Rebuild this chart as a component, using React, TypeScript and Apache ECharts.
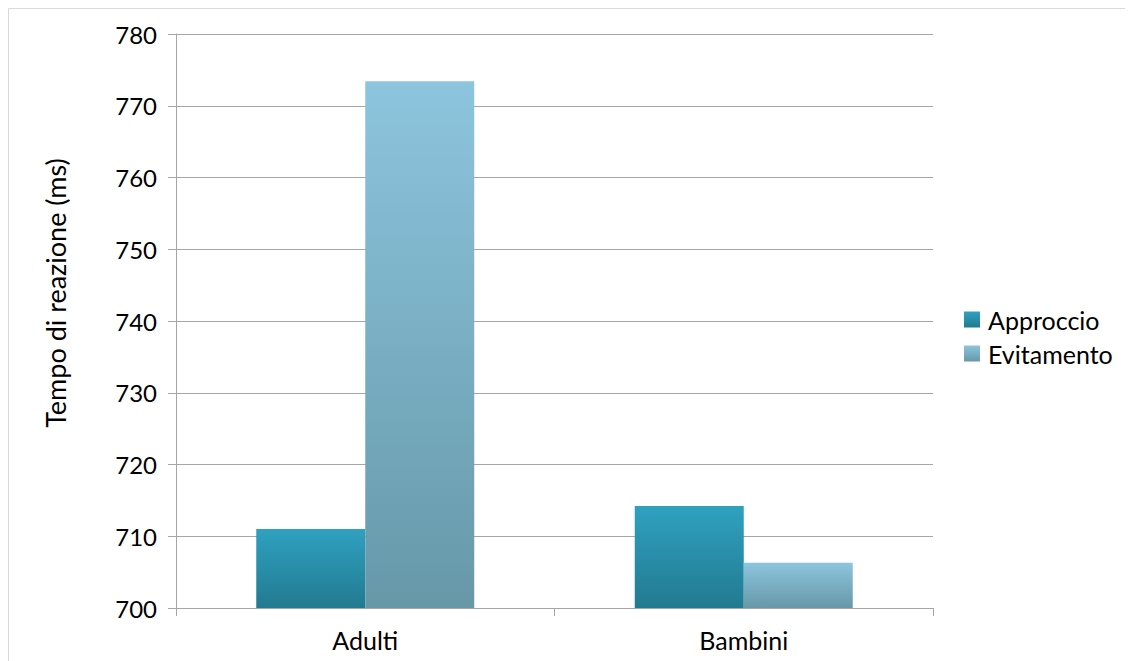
import React, { useEffect, useRef } from "react";
import * as echarts from "echarts";

const categories = ["Adulti", "Bambini"];
const approccio = [711.0, 714.2];
const evitamento = [773.4, 706.3];
const seriesNames = ["Approccio", "Evitamento"];
const yAxisTitle = "Tempo di reazione (ms)";

export default function App() {
  const ref = useRef<HTMLDivElement>(null);
  useEffect(() => {
    const chart = echarts.init(ref.current!, null, { renderer: "svg" });
    const font = "Lato, 'Open Sans', sans-serif";
    chart.setOption({
      animation: false,
      textStyle: { fontFamily: font },
      graphic: [
        {
          type: "rect",
          shape: { x: 0.5, y: 0.5, width: 3000, height: 3000 },
          style: { fill: "none", stroke: "#d9d9d9", lineWidth: 1 },
          silent: true,
        },
        {
          type: "text",
          x: 47,
          y: 285,
          rotation: Math.PI / 2,
          style: {
            text: yAxisTitle,
            fontSize: 27,
            fontFamily: font,
            fill: "#000",
            align: "center",
            verticalAlign: "middle",
          },
          silent: true,
        },
      ],
      grid: { left: 168, top: 26, width: 757, height: 574 },
      legend: {
        orient: "vertical",
        left: 956,
        top: 299,
        padding: 0,
        itemWidth: 16,
        itemHeight: 16,
        itemGap: 9,
        icon: "rect",
        textStyle: { fontSize: 25, color: "#000", fontFamily: font, padding: [0, 0, 0, 3] },
        data: seriesNames,
      },
      xAxis: {
        type: "category",
        data: categories,
        axisLine: { lineStyle: { color: "#a6a6a6", width: 1 } },
        axisTick: { show: true, length: 8, lineStyle: { color: "#a6a6a6" } },
        axisLabel: { fontSize: 25, color: "#000", margin: 19, fontFamily: font },
      },
      yAxis: {
        type: "value",
        min: 700,
        max: 780,
        interval: 10,
        axisLine: { show: true, lineStyle: { color: "#a6a6a6", width: 1 } },
        axisTick: { show: true, length: 8, lineStyle: { color: "#a6a6a6" } },
        axisLabel: { fontSize: 24, color: "#000", margin: 19, fontFamily: font },
        splitLine: { lineStyle: { color: "#a6a6a6", width: 1 } },
      },
      series: [
        {
          name: seriesNames[0],
          type: "bar",
          data: approccio,
          barWidth: 109,
          barGap: "0%",
          itemStyle: {
            color: new echarts.graphic.LinearGradient(0, 0, 0, 1, [
              { offset: 0, color: "#2fa1c0" },
              { offset: 1, color: "#227a90" },
            ]),
          },
        },
        {
          name: seriesNames[1],
          type: "bar",
          data: evitamento,
          barWidth: 109,
          barGap: "0%",
          itemStyle: {
            color: new echarts.graphic.LinearGradient(0, 0, 0, 1, [
              { offset: 0, color: "#8dc5de" },
              { offset: 1, color: "#6698a8" },
            ]),
          },
        },
      ],
    });
    return () => chart.dispose();
  }, []);
  return <div ref={ref} style={{ width: 1125, height: 653 }} />;
}
